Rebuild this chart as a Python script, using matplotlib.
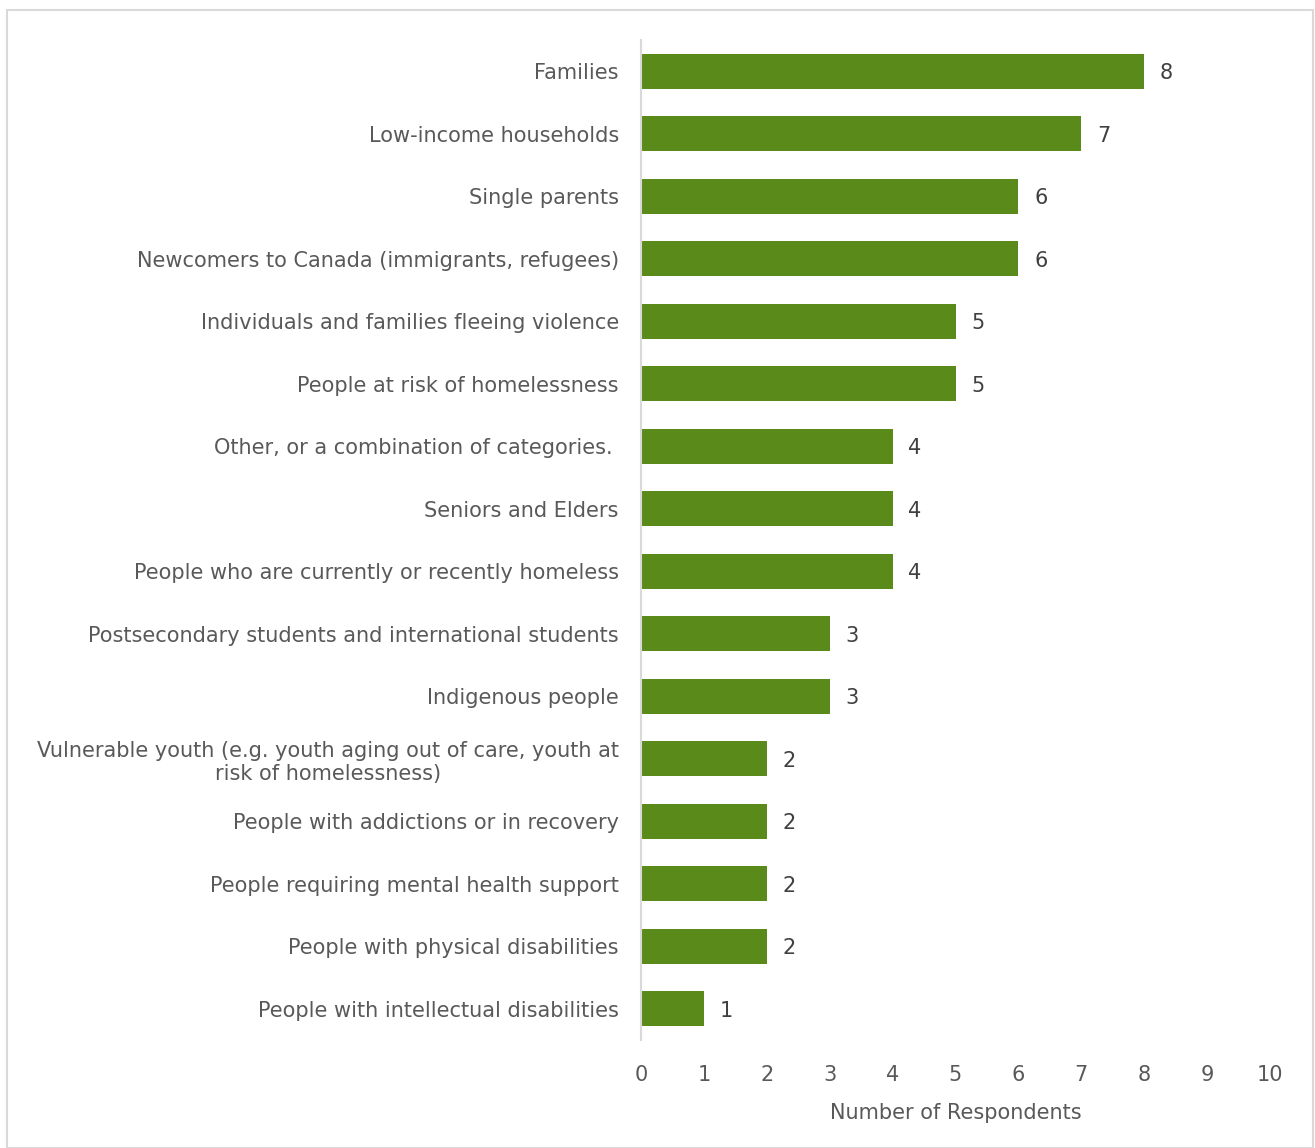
import matplotlib.pyplot as plt
from matplotlib.patches import Rectangle

categories = [
    'Families',
    'Low-income households',
    'Single parents',
    'Newcomers to Canada (immigrants, refugees)',
    'Individuals and families fleeing violence',
    'People at risk of homelessness',
    'Other, or a combination of categories. ',
    'Seniors and Elders',
    'People who are currently or recently homeless',
    'Postsecondary students and international students',
    'Indigenous people',
    'Vulnerable youth (e.g. youth aging out of care, youth at\nrisk of homelessness)',
    'People with addictions or in recovery',
    'People requiring mental health support',
    'People with physical disabilities',
    'People with intellectual disabilities',
]
counts = [8, 7, 6, 6, 5, 5, 4, 4, 4, 3, 3, 2, 2, 2, 2, 1]

green = '#5A8A1A'
grey = '#595959'
plt.rcParams['font.family'] = ['DejaVu Sans']

fig = plt.figure(figsize=(13.15, 11.48), dpi=100)
fig.patches.append(Rectangle((7 / 1315, 0), 1 - 9 / 1315, 1 - 10 / 1148, transform=fig.transFigure,
                             fill=False, edgecolor='#D9D9D9', linewidth=1.5))
ax = fig.add_axes([641 / 1315, 108 / 1148, 629 / 1315, 1000 / 1148])

y = list(range(len(categories)))
ax.barh(y, counts, height=0.56, color=green)
for yi, c in zip(y, counts):
    ax.text(c + 0.25, yi + 0.03, str(c), va='center', ha='left', fontsize=15, color='#404040')

ax.set_ylim(len(categories) - 0.5, -0.5)
ax.set_xlim(0, 10)
ax.set_xticks(range(0, 11))
ax.set_yticks(y)
ax.set_yticklabels(categories, fontsize=15, color=grey)
for lab in ax.get_yticklabels():
    lab.set_multialignment('center')
ax.tick_params(axis='y', length=0, pad=16)
ax.tick_params(axis='x', length=0, pad=18, labelsize=15, labelcolor=grey)
ax.set_xlabel('Number of Respondents', fontsize=15, color=grey, labelpad=13)
for s in ['top', 'right', 'bottom']:
    ax.spines[s].set_visible(False)
ax.spines['left'].set_color('#D9D9D9')
ax.spines['left'].set_linewidth(1.5)

fig.savefig('out.png', dpi=100)
